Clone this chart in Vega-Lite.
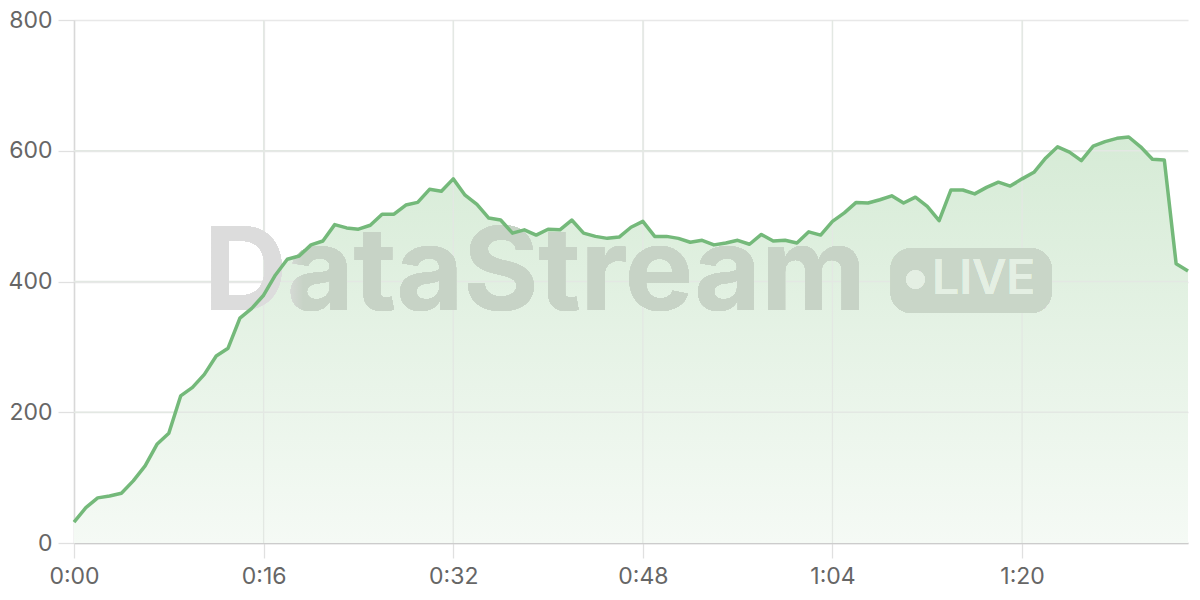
{
  "$schema": "https://vega.github.io/schema/vega-lite/v6.json",
  "width": 1114,
  "height": 523,
  "autosize": "none",
  "padding": {"left": 74, "top": 20, "right": 12, "bottom": 57},
  "background": "white",
  "config": {
    "view": {"stroke": null},
    "axis": {
      "labelFont": "Inter",
      "labelFontSize": 23,
      "labelColor": "#666666",
      "labelFlush": false,
      "gridColor": "#e8e8e8",
      "gridWidth": 1.3,
      "domainColor": "#cccccc",
      "domainWidth": 1.5,
      "tickColor": "#e0e0e0",
      "tickWidth": 1.3,
      "tickSize": 15,
      "title": null
    }
  },
  "datasets": {
    "series": [
      {"t": 0, "v": 32}, {"t": 1, "v": 54}, {"t": 2, "v": 69}, {"t": 3, "v": 72}, {"t": 4, "v": 76},
      {"t": 5, "v": 95}, {"t": 6, "v": 118}, {"t": 7, "v": 151}, {"t": 8, "v": 168}, {"t": 9, "v": 225},
      {"t": 10, "v": 238}, {"t": 11, "v": 258}, {"t": 12, "v": 286}, {"t": 13, "v": 298}, {"t": 14, "v": 344},
      {"t": 15, "v": 359}, {"t": 16, "v": 379}, {"t": 17, "v": 410}, {"t": 18, "v": 434}, {"t": 19, "v": 439},
      {"t": 20, "v": 456}, {"t": 21, "v": 462}, {"t": 22, "v": 487}, {"t": 23, "v": 482}, {"t": 24, "v": 480},
      {"t": 25, "v": 486}, {"t": 26, "v": 503}, {"t": 27, "v": 503}, {"t": 28, "v": 517}, {"t": 29, "v": 521},
      {"t": 30, "v": 541}, {"t": 31, "v": 538}, {"t": 32, "v": 557}, {"t": 33, "v": 532}, {"t": 34, "v": 518},
      {"t": 35, "v": 497}, {"t": 36, "v": 494}, {"t": 37, "v": 474}, {"t": 38, "v": 479}, {"t": 39, "v": 471},
      {"t": 40, "v": 480}, {"t": 41, "v": 479}, {"t": 42, "v": 494}, {"t": 43, "v": 474}, {"t": 44, "v": 469},
      {"t": 45, "v": 466}, {"t": 46, "v": 468}, {"t": 47, "v": 483}, {"t": 48, "v": 492}, {"t": 49, "v": 469},
      {"t": 50, "v": 469}, {"t": 51, "v": 466}, {"t": 52, "v": 460}, {"t": 53, "v": 463}, {"t": 54, "v": 456},
      {"t": 55, "v": 459}, {"t": 56, "v": 463}, {"t": 57, "v": 457}, {"t": 58, "v": 472}, {"t": 59, "v": 462},
      {"t": 60, "v": 463}, {"t": 61, "v": 459}, {"t": 62, "v": 476}, {"t": 63, "v": 471}, {"t": 64, "v": 492},
      {"t": 65, "v": 505}, {"t": 66, "v": 521}, {"t": 67, "v": 520}, {"t": 68, "v": 525}, {"t": 69, "v": 531},
      {"t": 70, "v": 520}, {"t": 71, "v": 529}, {"t": 72, "v": 515}, {"t": 73, "v": 493}, {"t": 74, "v": 540},
      {"t": 75, "v": 540}, {"t": 76, "v": 534}, {"t": 77, "v": 544}, {"t": 78, "v": 552}, {"t": 79, "v": 546},
      {"t": 80, "v": 557}, {"t": 81, "v": 567}, {"t": 82, "v": 589}, {"t": 83, "v": 606}, {"t": 84, "v": 598},
      {"t": 85, "v": 585}, {"t": 86, "v": 607}, {"t": 87, "v": 614}, {"t": 88, "v": 619}, {"t": 89, "v": 621},
      {"t": 90, "v": 606}, {"t": 91, "v": 587}, {"t": 92, "v": 586}, {"t": 93, "v": 427}, {"t": 94, "v": 416}
    ],
    "hgrid": [{"g": 200}, {"g": 400}, {"g": 600}],
    "vgrid": [{"g": 16}, {"g": 32}, {"g": 48}, {"g": 64}, {"g": 80}]
  },
  "data": {"name": "series"},
  "layer": [
    {
      "mark": {
        "type": "area",
        "color": {
          "gradient": "linear",
          "x1": 0, "y1": 1, "x2": 0, "y2": 0,
          "stops": [
            {"offset": 0, "color": "#f5faf5"},
            {"offset": 1, "color": "#d6ebd6"}
          ]
        }
      },
      "encoding": {
        "x": {
          "field": "t",
          "type": "quantitative",
          "scale": {"domain": [0, 94], "nice": false, "zero": false},
          "axis": {
            "values": [0, 16, 32, 48, 64, 80],
            "labelExpr": "floor(datum.value/60) + ':' + (datum.value%60 < 10 ? '0' : '') + (datum.value%60)",
            "labelPadding": 7,
            "grid": true
          }
        },
        "y": {
          "field": "v",
          "type": "quantitative",
          "scale": {"domain": [0, 800], "nice": false},
          "axis": {"values": [0, 200, 400, 600, 800], "labelPadding": 6, "tickSize": 16, "domainColor": "#d8d8d8"}
        }
      }
    },
    {
      "data": {"name": "hgrid"},
      "mark": {"type": "rule", "color": "#e3e8e3", "strokeWidth": 1.3},
      "encoding": {"y": {"field": "g", "type": "quantitative"}}
    },
    {
      "data": {"name": "vgrid"},
      "mark": {"type": "rule", "color": "#e3e8e3", "strokeWidth": 1.3},
      "encoding": {"x": {"field": "g", "type": "quantitative"}}
    },
    {
      "mark": {
        "type": "text", "text": "DataStream", "font": "Inter", "fontWeight": "bold", "fontSize": 115,
        "color": {
          "gradient": "linear",
          "x1": 0, "y1": 0, "x2": 1, "y2": 0,
          "stops": [
            {"offset": 0, "color": "#dcdcdc"},
            {"offset": 0.12, "color": "#dcdcdc"},
            {"offset": 0.15, "color": "#c7d3c6"},
            {"offset": 1, "color": "#c7d3c6"}
          ]
        },
        "align": "center", "baseline": "alphabetic"
      },
      "encoding": {
        "x": {"datum": 38.9},
        "y": {"datum": 357}
      }
    },
    {
      "mark": {"type": "rect", "color": "#c9d6c8", "cornerRadius": 21},
      "encoding": {
        "x": {"datum": 68.9},
        "x2": {"datum": 82.5},
        "y": {"datum": 451},
        "y2": {"datum": 352}
      }
    },
    {
      "mark": {"type": "point", "shape": "circle", "filled": true, "size": 340, "color": "#e4efe3", "strokeWidth": 0, "opacity": 1},
      "encoding": {
        "x": {"datum": 71},
        "y": {"datum": 403}
      }
    },
    {
      "mark": {"type": "text", "text": "LIVE", "font": "Inter", "fontWeight": 500, "fontSize": 48, "color": "#e4efe3", "align": "left", "baseline": "middle"},
      "encoding": {
        "x": {"datum": 72.4},
        "y": {"datum": 403}
      }
    },
    {
      "mark": {"type": "line", "color": "#74b97a", "strokeWidth": 3.5, "strokeJoin": "round"},
      "encoding": {
        "x": {"field": "t", "type": "quantitative"},
        "y": {"field": "v", "type": "quantitative"}
      }
    }
  ]
}
